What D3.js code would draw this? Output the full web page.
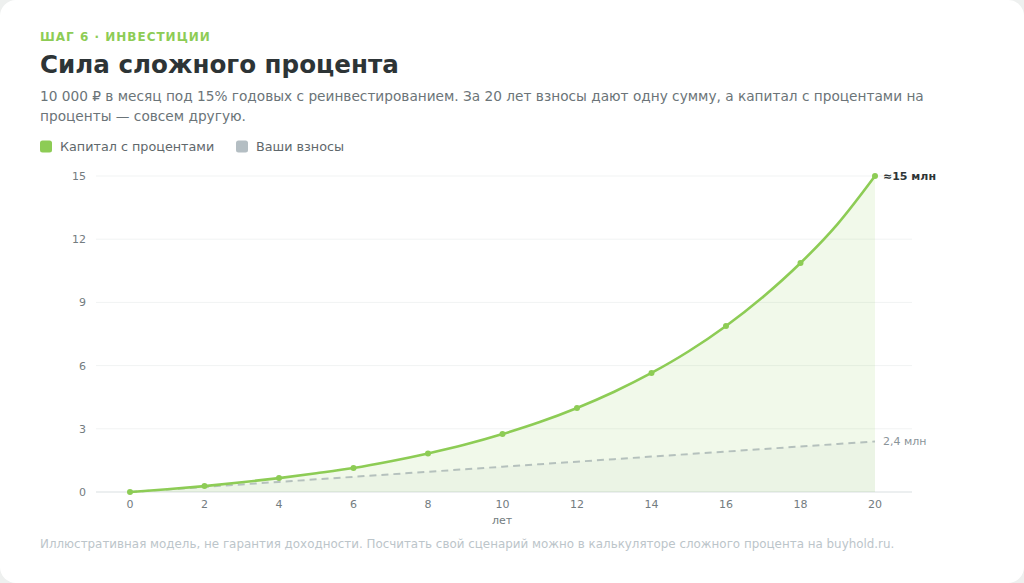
<!DOCTYPE html>
<html><head><meta charset="utf-8">
<script src="https://cdn.jsdelivr.net/npm/d3@7/dist/d3.min.js"></script>
<style>
html,body{margin:0;padding:0;background:#eef0ef;}
svg{display:block;font-family:"DejaVu Sans",sans-serif;}
</style></head><body>
<svg id="c" width="1024" height="583"></svg>
<script>
const years = [0,1,2,3,4,5,6,7,8,9,10,11,12,13,14,15,16,17,18,19,20];
const capital = [0,0.13,0.28,0.46,0.66,0.89,1.14,1.46,1.83,2.25,2.75,3.32,3.99,4.76,5.65,6.68,7.88,9.27,10.87,12.73,15.0];
const contributions = [0,0.12,0.24,0.36,0.48,0.6,0.72,0.84,0.96,1.08,1.2,1.32,1.44,1.56,1.68,1.8,1.92,2.04,2.16,2.28,2.4];
const markerYears = [0,2,4,6,8,10,12,14,16,18,20];
const yTicks = [0,3,6,9,12,15];
const xTicks = [0,2,4,6,8,10,12,14,16,18,20];
const legendItems = ["Капитал с процентами","Ваши взносы"];

const W=1024,H=583;
const svg=d3.select("#c");
const green="#8dcc55", grey="#b4bec3";

svg.append("rect").attr("x",0).attr("y",0).attr("width",W).attr("height",H).attr("rx",16).attr("fill","#fff");

svg.append("text").attr("x",40).attr("y",41).text("ШАГ 6 · ИНВЕСТИЦИИ")
  .attr("font-size",12).attr("font-weight","bold").attr("letter-spacing",1.0).attr("fill",green);
svg.append("text").attr("x",40).attr("y",73).text("Сила сложного процента")
  .attr("font-size",24.6).attr("font-weight","bold").attr("fill","#2d3436");
const sub=svg.append("text").attr("font-size",13.7).attr("fill","#6b7478");
sub.append("tspan").attr("x",40).attr("y",101).text("10 000 ₽ в месяц под 15% годовых с реинвестированием. За 20 лет взносы дают одну сумму, а капитал с процентами на");
sub.append("tspan").attr("x",40).attr("y",121).text("проценты — совсем другую.");

const lg=svg.append("g");
const lx=[40,236];
legendItems.forEach((t,i)=>{
  lg.append("rect").attr("x",lx[i]).attr("y",140.5).attr("width",12).attr("height",12).attr("rx",2.5).attr("fill",i?grey:green);
  lg.append("text").attr("x",lx[i]+20).attr("y",151).text(t).attr("font-size",12.75).attr("fill","#5f686c");
});

const x=d3.scaleLinear().domain([0,20]).range([130,875]);
const y=d3.scaleLinear().domain([0,15]).range([492,176]);

// grid
svg.append("g").selectAll("line").data(yTicks).join("line")
  .attr("x1",96).attr("x2",912).attr("y1",d=>y(d)).attr("y2",d=>y(d))
  .attr("stroke",d=>d===0?"#e6eaeb":"#f1f3f3").attr("stroke-width",d=>d===0?1.5:1);
svg.append("g").selectAll("text").data(yTicks).join("text")
  .attr("x",86).attr("y",d=>y(d)+4).attr("text-anchor","end").text(d=>d)
  .attr("font-size",11).attr("fill","#737c80");
svg.append("g").selectAll("text").data(xTicks).join("text")
  .attr("x",d=>x(d)).attr("y",508).attr("text-anchor","middle").text(d=>d)
  .attr("font-size",11).attr("fill","#737c80");
svg.append("text").attr("x",502).attr("y",524).attr("text-anchor","middle").text("лет")
  .attr("font-size",11).attr("fill","#737c80");

const area=d3.area().x((d,i)=>x(years[i])).y0(y(0)).y1(d=>y(d)).curve(d3.curveMonotoneX);
svg.append("path").attr("d",area(capital)).attr("fill",green).attr("fill-opacity",0.12);
svg.append("path").attr("d",area(contributions)).attr("fill","#9aa8a0").attr("fill-opacity",0.06);

const line=d3.line().x((d,i)=>x(years[i])).y(d=>y(d)).curve(d3.curveMonotoneX);
svg.append("path").attr("d",line(contributions)).attr("fill","none").attr("stroke","#b5c1bd")
  .attr("stroke-width",2).attr("stroke-dasharray","7,5");
svg.append("path").attr("d",line(capital)).attr("fill","none").attr("stroke",green).attr("stroke-width",2.6);

svg.append("g").selectAll("circle").data(markerYears).join("circle")
  .attr("cx",d=>x(d)).attr("cy",d=>y(capital[years.indexOf(d)])).attr("r",3).attr("fill",green);

svg.append("text").attr("x",883).attr("y",y(capital[20])+4).text("≈15 млн")
  .attr("font-size",11).attr("font-weight","bold").attr("fill","#2d3436");
svg.append("text").attr("x",883).attr("y",y(contributions[20])+4).text("2,4 млн")
  .attr("font-size",11).attr("fill","#8a9499");

svg.append("text").attr("x",40).attr("y",548).text("Иллюстративная модель, не гарантия доходности. Посчитать свой сценарий можно в калькуляторе сложного процента на buyhold.ru.")
  .attr("font-size",11.9).attr("fill","#bcc5ca");
</script></body></html>
